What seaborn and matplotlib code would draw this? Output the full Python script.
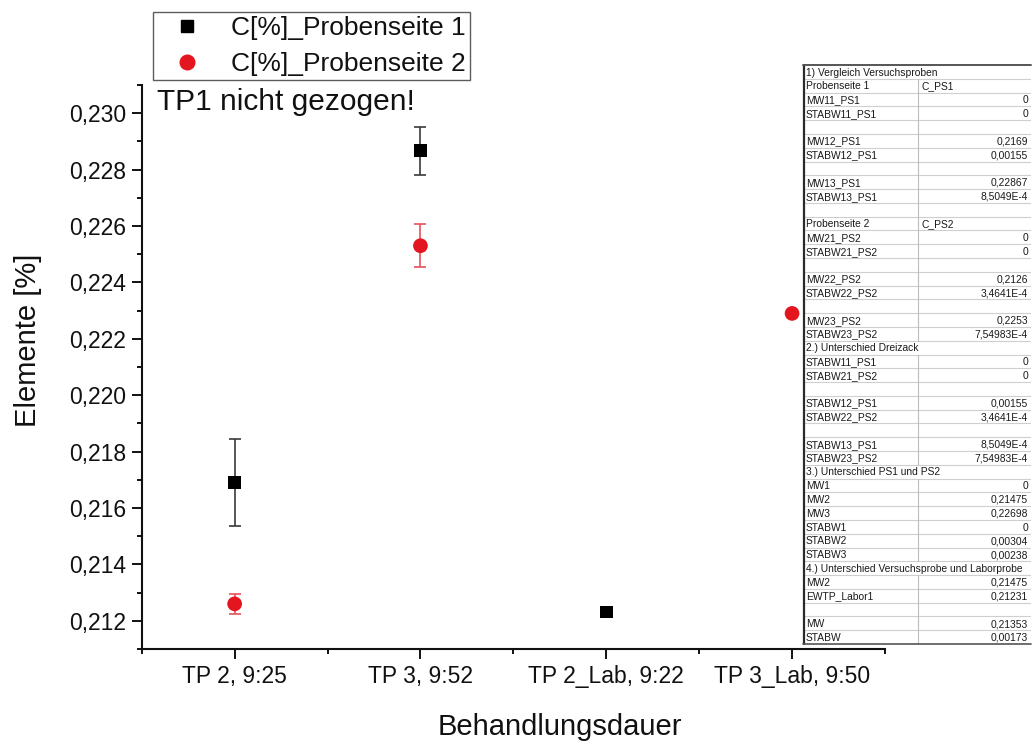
import numpy as np
import pandas as pd
import matplotlib
matplotlib.use("Agg")
import matplotlib.pyplot as plt
from matplotlib.ticker import FixedLocator, FuncFormatter
from matplotlib.lines import Line2D
import seaborn as sns

# ---- data ----
categories = ["TP 2, 9:25", "TP 3, 9:52", "TP 2_Lab, 9:22", "TP 3_Lab, 9:50"]
series_names = ["C[%]_Probenseite 1", "C[%]_Probenseite 2"]
ps1_mean = [0.2169, 0.22867, 0.21231, np.nan]
ps1_std = [0.00155, 8.5049e-4, np.nan, np.nan]
ps2_mean = [0.2126, 0.2253, np.nan, 0.2229]
ps2_std = [3.4641e-4, 7.54983e-4, np.nan, np.nan]

y_ticks = [0.212, 0.214, 0.216, 0.218, 0.220, 0.222, 0.224, 0.226, 0.228, 0.230]

table_labels = [
    "1) Vergleich Versuchsproben", "Probenseite 1", "MW11_PS1", "STABW11_PS1", "",
    "MW12_PS1", "STABW12_PS1", "", "MW13_PS1", "STABW13_PS1", "",
    "Probenseite 2", "MW21_PS2", "STABW21_PS2", "", "MW22_PS2", "STABW22_PS2", "",
    "MW23_PS2", "STABW23_PS2", "2.) Unterschied Dreizack", "STABW11_PS1", "STABW21_PS2", "",
    "STABW12_PS1", "STABW22_PS2", "", "STABW13_PS1", "STABW23_PS2",
    "3.) Unterschied PS1 und PS2", "MW1", "MW2", "MW3", "STABW1", "STABW2", "STABW3",
    "4.) Unterschied Versuchsprobe und Laborprobe", "MW2", "EWTP_Labor1", "", "MW", "STABW",
]
table_values = [
    None, "C_PS1", "0", "0", "",
    "0,2169", "0,00155", "", "0,22867", "8,5049E-4", "",
    "C_PS2", "0", "0", "", "0,2126", "3,4641E-4", "",
    "0,2253", "7,54983E-4", None, "0", "0", "",
    "0,00155", "3,4641E-4", "", "8,5049E-4", "7,54983E-4",
    None, "0", "0,21475", "0,22698", "0", "0,00304", "0,00238",
    None, "0,21475", "0,21231", "", "0,21353", "0,00173",
]
left_aligned_values = {"C_PS1", "C_PS2"}

# ---- style ----
sns.set_theme(style="ticks")
plt.rcParams["font.family"] = ["Liberation Sans", "DejaVu Sans"]
plt.rcParams["axes.linewidth"] = 1.5

colors = {series_names[0]: "#000000", series_names[1]: "#e3161f"}
err_colors = {series_names[0]: "#3a3a3a", series_names[1]: "#e8505a"}
markers = {series_names[0]: "s", series_names[1]: "o"}

pos = np.arange(1, len(categories) + 1)
df = pd.concat([
    pd.DataFrame({"pos": pos, "wert": ps1_mean, "std": ps1_std, "serie": series_names[0]}),
    pd.DataFrame({"pos": pos, "wert": ps2_mean, "std": ps2_std, "serie": series_names[1]}),
]).dropna(subset=["wert"])

fig = plt.figure(figsize=(10.33, 7.45), dpi=100)
ax = fig.add_axes([0.1372, 0.1289, 0.7195, 0.7570])

for name, g in df.groupby("serie"):
    e = g.dropna(subset=["std"])
    ax.errorbar(e["pos"], e["wert"], yerr=e["std"], fmt="none",
                ecolor=err_colors[name], elinewidth=1.2, capsize=4.6,
                capthick=1.2, zorder=2)

sns.scatterplot(data=df, x="pos", y="wert", hue="serie", style="serie",
                palette=colors, markers=markers,
                size="serie", sizes={series_names[0]: 83, series_names[1]: 112},
                linewidth=0, legend=False, ax=ax, zorder=3)

ax.set_xlim(0.5, 4.5)
ax.set_ylim(0.211, 0.231)
ax.xaxis.set_major_locator(FixedLocator(pos))
ax.set_xticklabels(categories)
ax.xaxis.set_minor_locator(FixedLocator(np.arange(0.5, 4.6, 1.0)))
ax.yaxis.set_major_locator(FixedLocator(y_ticks))
ax.yaxis.set_minor_locator(FixedLocator(np.arange(0.211, 0.2315, 0.002)))
ax.yaxis.set_major_formatter(FuncFormatter(lambda v, p: f"{v:.3f}".replace(".", ",")))
ax.tick_params(which="major", length=7.2, width=1.4, labelsize=16.5, color="#111111",
               pad=4, labelcolor="#111111")
ax.tick_params(which="minor", length=3.6, width=1.4, color="#111111")
sns.despine(ax=ax)
for s in ("left", "bottom"):
    ax.spines[s].set_color("#111111")

ax.set_xlabel("Behandlungsdauer", fontsize=21, color="#111111")
ax.xaxis.set_label_coords(0.563, -0.113)
ax.set_ylabel("Elemente [%]", fontsize=21, color="#111111")
ax.yaxis.set_label_coords(-0.134, 0.548)

ax.text(157 / 1033, 1 - 110 / 745, "TP1 nicht gezogen!", transform=fig.transFigure,
        fontsize=21.5, color="#111111", ha="left", va="baseline")

handles = [Line2D([], [], linestyle="none", marker=markers[n], color=colors[n],
                  markersize=9.0 if markers[n] == "s" else 10.5) for n in series_names]
leg = fig.legend(handles, series_names, loc="upper left",
                 bbox_to_anchor=(153 / 1033, 1 - 12 / 745), fontsize=19,
                 frameon=True, fancybox=False, edgecolor="#333333",
                 borderpad=0.15, labelspacing=0.45, handletextpad=0.5,
                 handlelength=2.3, borderaxespad=0)
leg.get_frame().set_linewidth(1.0)
for t in leg.get_texts():
    t.set_color("#111111")

# ---- results table ----
n_rows = len(table_labels)
tx0, tx1, ty_top, ty_bot = 803, 1031, 65, 644
tab = fig.add_axes([tx0 / 1033, 1 - ty_bot / 745, (tx1 - tx0) / 1033, (ty_bot - ty_top) / 745])
tab.set_xlim(0, tx1 - tx0)
tab.set_ylim(n_rows, 0)
tab.set_facecolor("white")
for s in tab.spines.values():
    s.set_visible(False)
tab.set_xticks([])
tab.set_yticks([])
col_x = 918 - tx0
tfs = 7.4
for i in range(1, n_rows):
    tab.axhline(i, color="#cfcfcf", linewidth=0.8)
for i, (lab, val) in enumerate(zip(table_labels, table_values)):
    if val is not None:
        tab.plot([col_x, col_x], [i, i + 1], color="#bdbdbd", linewidth=0.8)
    tab.text(3, i + 0.55, lab, fontsize=tfs, va="center", ha="left", color="#1a1a1a")
    if val:
        if val in left_aligned_values:
            tab.text(col_x + 3, i + 0.55, val, fontsize=tfs, va="center", ha="left", color="#1a1a1a")
        else:
            tab.text(tx1 - tx0 - 3, i + 0.55, val, fontsize=tfs, va="center", ha="right", color="#1a1a1a")
tab.plot([0.5, 0.5], [0, n_rows], color="#2a2a2a", linewidth=1.6, clip_on=False)
tab.plot([0, tx1 - tx0], [0, 0], color="#555555", linewidth=1.4, clip_on=False)
tab.plot([0, tx1 - tx0], [n_rows, n_rows], color="#555555", linewidth=1.2, clip_on=False)

fig.savefig("out.png", dpi=100, facecolor="white")
